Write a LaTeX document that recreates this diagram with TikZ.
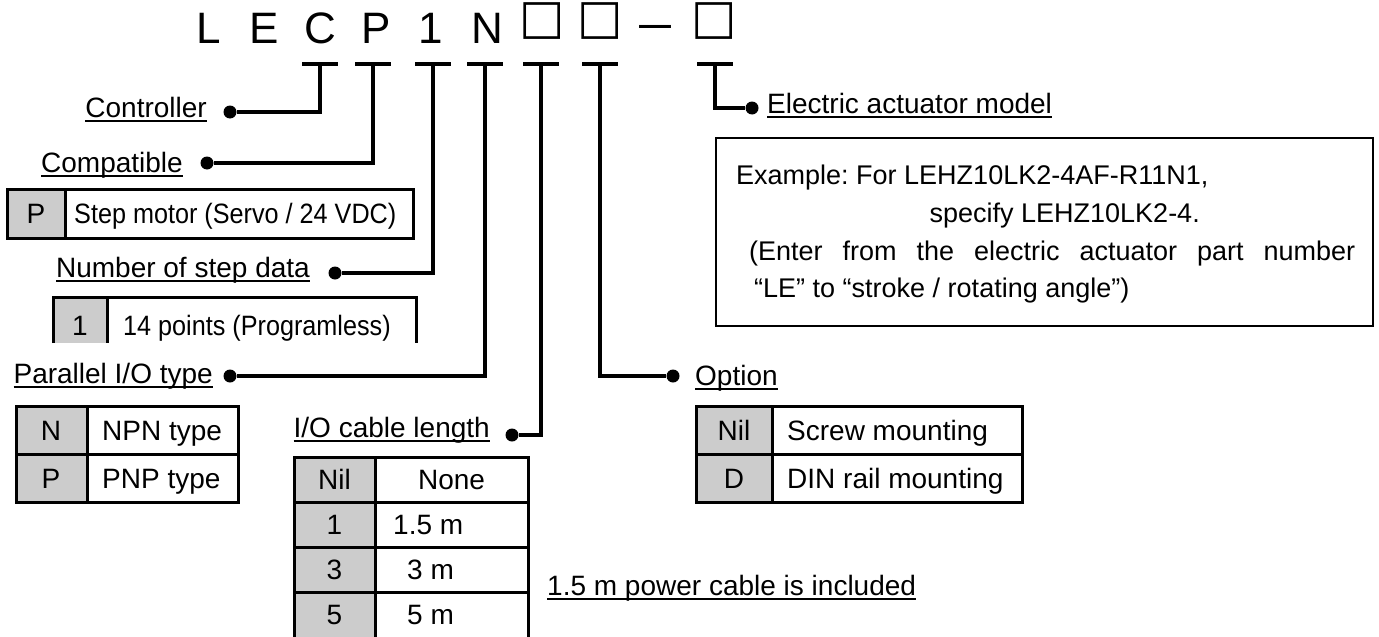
\documentclass[tikz,border=0pt]{standalone}
\usepackage{fontspec}
\setmainfont{Liberation Sans}
\newfontfamily\boxfont{DejaVu Sans}
\newfontfamily\cjkfont{Noto Sans CJK JP}
\usepackage{graphicx}
\usetikzlibrary{positioning}
\definecolor{CellGray}{HTML}{CCCCCC}
% underlined label text
\newsavebox{\ulbox}
\newcommand{\ulbl}[1]{\sbox{\ulbox}{#1}\rlap{\rule[-5pt]{\wd\ulbox}{2pt}}\usebox{\ulbox}}
\tikzset{
    % Part number characters
    codechar/.style={
        font=\fontsize{44}{50}\selectfont,
        anchor=base,
        inner sep=0
    },
    codebox/.style={
        font=\boxfont\fontsize{48}{54}\selectfont,
        anchor=base,
        inner sep=0
    },
    codedash/.style={
        font=\cjkfont\fontsize{44}{50}\selectfont,
        anchor=base,
        inner sep=0
    },
    % Text styles
    lbl/.style={
        font=\fontsize{28}{32}\selectfont,
        inner sep=0
    },
    celltext/.style={
        font=\fontsize{28}{32}\selectfont,
        inner sep=0,
        anchor=base
    },
    notetext/.style={
        font=\fontsize{27}{31}\selectfont\frenchspacing,
        inner sep=0,
        anchor=base west
    },
    % Line styles
    wire/.style={line width=3.2pt},
    grid/.style={line width=3pt},
    dot/.style={
        circle,
        fill=black,
        inner sep=0,
        minimum size=13pt
    },
    notebox/.style={
        rectangle,
        draw,
        line width=1.6pt,
        inner sep=0,
        anchor=north west
    }
}
\begin{document}
\begin{tikzpicture}[x=1pt,y=-1pt]
    \useasboundingbox (0,0) rectangle (1379,637);

    % Part number
    \node[codechar] (kL) at (209,43) {L};
    \node[codechar] (kE) at (264,43) {E};
    \node[codechar] (kC) at (320,43) {C};
    \node[codechar] (kP) at (376,43) {P};
    \node[codechar] (k1) at (431,43) {1};
    \node[codechar] (kN) at (487,43) {N};
    \node[codebox] (kCable) at (542,34) {□};
    \node[codebox] (kOption) at (600,34) {□};
    \node[codedash] (kDash) at (655,43) {－};
    \node[codebox] (kModel) at (714,34) {□};

    % Tick points under the characters
    \coordinate (tC) at (320,64);
    \coordinate (tP) at (373,64);
    \coordinate (t1) at (433,64);
    \coordinate (tN) at (485,64);
    \coordinate (tCable) at (541,64);
    \coordinate (tOption) at (600,64);
    \coordinate (tModel) at (715,64);
    \foreach \t in {tC,tP,t1,tN,tCable,tOption,tModel}
        \draw[wire] ([xshift=-18pt]\t) -- ([xshift=18pt]\t);

    % Dots
    \node[dot] (dCtrl) at (230,112) {};
    \node[dot] (dCompat) at (207,163) {};
    \node[dot] (dStep) at (335,273) {};
    \node[dot] (dPar) at (230,376) {};
    \node[dot] (dCable) at (512,435) {};
    \node[dot] (dOption) at (673,376) {};
    \node[dot] (dModel) at (752,108) {};

    % Leader lines
    \draw[wire] (tC) |- (dCtrl);
    \draw[wire] (tP) |- (dCompat);
    \draw[wire] (t1) |- (dStep);
    \draw[wire] (tN) |- (dPar);
    \draw[wire] (tCable) |- (dCable);
    \draw[wire] (tOption) |- (dOption);
    \draw[wire] (tModel) |- (dModel);

    % Labels
    \node[lbl, anchor=base east] (lCtrl) at (207,117) {\ulbl{Controller}};
    \node[lbl, anchor=base east] (lCompat) at (183,172) {\ulbl{Compatible}};
    \node[lbl, anchor=base east] (lStep) at (310,277) {\ulbl{Number of step data}};
    \node[lbl, anchor=base east] (lPar) at (213,383) {\ulbl{Parallel I/O type}};
    \node[lbl, anchor=base east] (lCable) at (490,437) {\ulbl{I/O cable length}};
    \node[lbl, anchor=base west] (lOption) at (695,385) {\ulbl{Option}};
    \node[lbl, anchor=base west] (lModel) at (767,113) {\ulbl{Electric actuator model}};
    \node[lbl, anchor=base west] (lPower) at (547,595) {\ulbl{1.5 m power cable is included}};

    % Compatible table
    \fill[CellGray] (7,189) rectangle (65,238);
    \draw[grid] (7,189) rectangle (413,238) (65,189) -- (65,238);
    \node[celltext] (pKey) at (36,223) {P};
    \node[celltext, anchor=base west] (pVal) at (74,223) {\scalebox{0.9}[1]{Step motor (Servo / 24 VDC)}};

    % Step data table
    \fill[CellGray] (53,297) rectangle (107,343);
    \draw[grid] (53,343) -- (53,297) -- (416,297) -- (416,343) (107,297) -- (107,343);
    \node[celltext] (sKey) at (80,335) {1};
    \node[celltext, anchor=base west] (sVal) at (123,335) {\scalebox{0.9}[1]{14 points (Programless)}};

    % Parallel I/O table
    \fill[CellGray] (16,406) rectangle (87,502);
    \draw[grid] (16,406) rectangle (238,502) (16,454) -- (238,454) (87,406) -- (87,502);
    \node[celltext] (nKey) at (51,440) {N};
    \node[celltext, anchor=base west] (nVal) at (102,440) {NPN type};
    \node[celltext] (npKey) at (51,488) {P};
    \node[celltext, anchor=base west] (npVal) at (102,488) {PNP type};

    % Option table
    \fill[CellGray] (696,406) rectangle (772,502);
    \draw[grid] (696,406) rectangle (1022,502) (696,454) -- (1022,454) (772,406) -- (772,502);
    \node[celltext] (oKey) at (734,440) {Nil};
    \node[celltext, anchor=base west] (oVal) at (787,440) {Screw mounting};
    \node[celltext] (odKey) at (734,488) {D};
    \node[celltext, anchor=base west] (odVal) at (787,488) {DIN rail mounting};

    % Cable length table
    \fill[CellGray] (294,457) rectangle (375,637);
    \draw[grid] (294,637) -- (294,457) -- (528,457) -- (528,637) (375,457) -- (375,637);
    \foreach \y in {502,547,592}
        \draw[grid] (294,\y) -- (528,\y);
    \node[celltext] (cKey) at (334.5,489.5) {Nil};
    \node[celltext] (cVal) at (451.5,489.5) {None};
    \node[celltext] (c1Key) at (334.5,534.5) {1};
    \node[celltext, anchor=base west] (c1Val) at (393,534.5) {1.5 m};
    \node[celltext] (c3Key) at (334.5,579.5) {3};
    \node[celltext, anchor=base west] (c3Val) at (407,579.5) {3 m};
    \node[celltext] (c5Key) at (334.5,624.5) {5};
    \node[celltext, anchor=base west] (c5Val) at (407,624.5) {5 m};

    % Actuator model note
    \node[notebox, minimum width=657pt, minimum height=188pt] (exBox) at (715,137) {};
    \node[notetext] (ex1) at (736,184) {Example: For LEHZ10LK2-4AF-R11N1,};
    \node[notetext, anchor=base east] (ex2) at (1200,222) {specify LEHZ10LK2-4.};
    \node[notetext] (ex3) at (749,260) {\makebox[606pt][s]{(Enter from the electric actuator part number}};
    \node[notetext] (ex4) at (754,297) {“LE” to “stroke / rotating angle”)};
\end{tikzpicture}
\end{document}
